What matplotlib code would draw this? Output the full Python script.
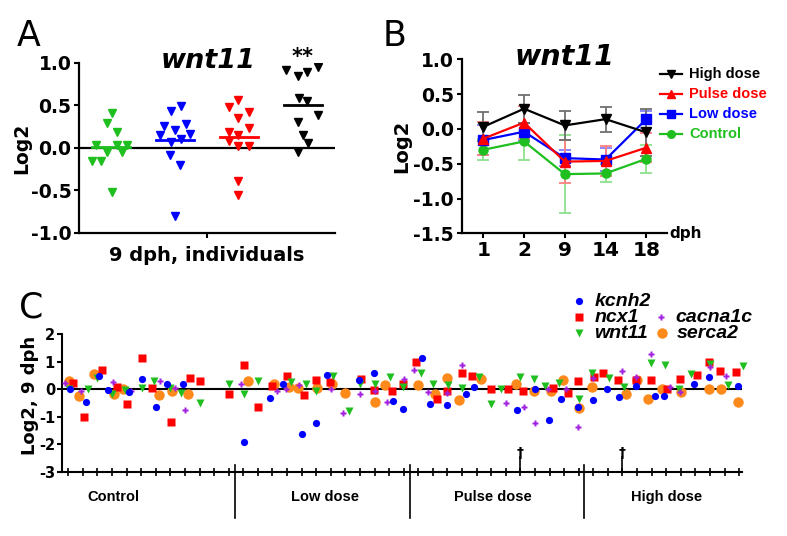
import matplotlib
matplotlib.use('Agg')
import matplotlib.pyplot as plt
from matplotlib.lines import Line2D
import numpy as np

plt.rcParams['font.family'] = ['DejaVu Sans']
plt.rcParams['axes.unicode_minus'] = False

W, H = 787, 536
fig = plt.figure(figsize=(W / 100, H / 100), dpi=100)


def fx(px):
    return px / W


def fy(py):
    return 1 - py / H


GREEN = '#1fbf1f'
BLUE = '#0000ff'
RED = '#ff0000'
BLACK = '#000000'
PURPLE = '#a21fe0'
ORANGE = '#ff8a1c'

# ---------------- Panel A data (9 dph, individuals) ----------------
a_groups = ['Control', 'Low dose', 'Pulse dose', 'High dose']
a_ctrl_x = [1.01, 0.93, 1.09, 0.76, 1.25, 1.09, 0.93, 1.17, 0.70, 0.85, 1.01]
a_ctrl_y = [0.41, 0.29, 0.18, 0.03, 0.03, 0.03, -0.05, -0.05, -0.16, -0.16, -0.52]
a_low_x = [1.93, 2.09, 1.83, 2.00, 2.17, 1.76, 2.24, 1.93, 2.09, 1.92, 2.08, 2.00]
a_low_y = [0.43, 0.49, 0.26, 0.21, 0.28, 0.15, 0.16, 0.07, 0.10, -0.09, -0.20, -0.80]
a_pulse_x = [2.99, 2.84, 3.15, 2.99, 2.84, 3.15, 2.99, 2.84, 2.99, 3.15, 2.99, 2.99]
a_pulse_y = [0.56, 0.48, 0.42, 0.35, 0.19, 0.23, 0.15, 0.08, 0.02, 0.02, -0.39, -0.56]
a_high_x = [3.73, 3.92, 4.07, 4.24, 3.93, 4.07, 4.23, 3.92, 4.00, 4.08, 3.92]
a_high_y = [0.91, 0.84, 0.89, 0.95, 0.58, 0.55, 0.38, 0.30, 0.15, 0.06, -0.05]
a_yticks = [-1.0, -0.5, 0.0, 0.5, 1.0]

# ---------------- Panel B data (time course) ----------------
b_dph = ['1', '2', '9', '14', '18']
b_high = [0.03, 0.29, 0.05, 0.14, -0.05]
b_high_err = [0.21, 0.20, 0.21, 0.18, 0.34]
b_pulse = [-0.14, 0.09, -0.47, -0.46, -0.27]
b_pulse_err = [0.24, 0.24, 0.31, 0.21, 0.21]
b_low = [-0.16, -0.04, -0.42, -0.44, 0.14]
b_low_err = [0.22, 0.13, 0.12, 0.17, 0.12]
b_ctrl = [-0.30, -0.18, -0.65, -0.64, -0.43]
b_ctrl_err = [0.15, 0.27, 0.56, 0.13, 0.20]
b_yticks = [-1.5, -1.0, -0.5, 0.0, 0.5, 1.0]

# ---------------- Panel C data (individuals, 9 dph) ----------------
c_groups = ['Control', 'Low dose', 'Pulse dose', 'High dose']
c_group_centers = [4.07, 18.6, 30.1, 42.06]
c_separators = [12.4, 24.45, 36.35]
c_daggers = [32, 39]
c_n_ticks = 47

kcnh2_x = [1.12, 2.21, 3.13, 3.74, 5.14, 6.03, 7.02, 7.75, 8.85, 13.03, 14.85, 15.75,
           17.01, 18.01, 18.72, 20.96, 21.99, 23.29, 23.98, 25.28, 25.83, 26.99, 28.28,
           28.83, 31.80, 33.03, 33.97, 34.81, 35.94, 36.97, 37.97, 38.79, 39.96, 41.26,
           41.88, 43.94, 44.96, 46.95]
kcnh2_y = [0.00, -0.48, 0.48, -0.04, -0.10, 0.36, -0.65, 0.20, 0.18, -1.92, -0.31, 0.18,
           -1.61, -1.23, 0.51, 0.35, 0.57, -0.43, -0.71, 1.12, -0.53, -0.57, -0.17,
           0.08, -0.76, 0.01, -1.10, -0.35, -0.63, -0.39, 0.02, -0.30, 0.12, -0.23,
           -0.23, 0.19, 0.46, 0.11]

ncx1_x = [1.34, 2.06, 3.33, 4.32, 5.03, 6.03, 6.76, 8.04, 9.33, 10.03, 12.02, 13.03,
          14.01, 14.97, 16.02, 17.17, 18.01, 18.97, 21.05, 21.97, 23.18, 23.93, 24.83,
          26.29, 26.95, 27.98, 28.69, 29.99, 31.16, 32.17, 34.26, 35.25, 35.98, 37.04,
          37.69, 38.70, 39.94, 40.97, 42.04, 42.98, 44.12, 44.92, 45.68, 46.77]
ncx1_y = [0.24, -0.99, 0.69, 0.07, -0.54, 1.12, 0.04, -1.18, 0.41, 0.29, -0.17, 0.86,
          -0.66, 0.10, 0.47, -0.22, 0.35, 0.27, 0.37, -0.02, -0.06, 0.18, 1.00,
          -0.35, -0.07, 0.58, 0.49, 0.00, 0.00, -0.06, 0.04, -0.12, 0.28, 0.46,
          0.60, 0.35, 0.34, 0.34, 0.00, 0.37, 0.52, 0.99, 0.65, 0.61]

wnt11_x = [1.05, 2.33, 2.95, 3.98, 4.91, 6.03, 6.86, 7.95, 8.73, 10.03, 12.02, 13.05,
           13.99, 16.30, 17.28, 18.01, 19.13, 20.27, 20.99, 22.04, 23.06, 23.98, 25.17,
           25.99, 27.04, 27.98, 29.17, 29.97, 30.70, 31.98, 32.96, 33.70, 34.68, 36.01,
           36.92, 38.11, 39.13, 40.97, 41.95, 42.91, 43.69, 45.01, 46.27, 47.25]
wnt11_y = [0.00, 0.02, 0.42, -0.18, -0.02, 0.04, 0.31, 0.06, -0.13, -0.51, 0.18, -0.18,
           0.29, 0.25, 0.20, -0.08, 0.49, -0.80, 0.18, 0.18, 0.44, 0.07, 0.57,
           0.18, 0.14, 0.04, 0.46, -0.55, 0.02, 0.43, 0.36, 0.10, 0.23, -0.36,
           0.60, 0.39, 0.08, 0.96, 0.89, 0.00, 0.54, 0.92, 0.16, 0.84]

cacna1c_x = [0.77, 1.87, 4.05, 5.32, 7.31, 8.30, 9.02, 12.82, 15.29, 15.93, 16.82, 19.02,
             19.86, 20.99, 22.06, 22.84, 24.05, 24.71, 25.69, 26.99, 27.98, 31.00, 32.28,
             32.99, 33.90, 35.14, 35.98, 36.97, 38.96, 39.94, 40.97, 42.27, 42.98, 45.00,
             46.13]
cacna1c_y = [0.22, -0.06, 0.27, -0.06, 0.29, 0.06, -0.75, 0.19, -0.05, 0.00, 0.14, 0.01,
             -0.87, -0.18, -0.08, -0.47, 0.36, 0.70, -0.11, -0.12, 0.89, -0.51, -0.65,
             -1.23, 0.00, 0.00, -1.37, 0.39, 0.66, 0.43, 1.28, 0.07, -0.10, 0.80,
             0.48]

serca2_x = [1.05, 1.75, 2.76, 4.13, 4.77, 7.20, 8.13, 9.19, 13.30, 15.09, 16.12, 16.73,
            18.06, 19.11, 19.99, 22.02, 22.72, 25.01, 26.15, 26.99, 27.82, 29.29, 31.71,
            32.94, 34.09, 34.95, 36.01, 36.94, 39.25, 40.01, 40.78, 41.70, 43.00, 44.96,
            45.79, 46.95]
serca2_y = [0.28, -0.24, 0.54, -0.16, 0.00, -0.20, -0.06, -0.16, 0.28, 0.20, 0.08, 0.04,
            0.04, 0.18, -0.13, -0.48, 0.17, 0.14, -0.16, 0.39, -0.40, 0.37, 0.19,
            -0.08, -0.05, 0.34, -0.69, 0.07, -0.17, 0.35, -0.35, 0.01, -0.10, 0.01,
            0.01, -0.48]
c_yticks = [-3, -2, -1, 0, 1, 2]

# =============== Panel A ===============
axA = fig.add_axes([fx(79), fy(232.7), fx(256), 170 / H])
a_sets = [(a_ctrl_x, a_ctrl_y, GREEN), (a_low_x, a_low_y, BLUE),
          (a_pulse_x, a_pulse_y, RED), (a_high_x, a_high_y, BLACK)]
axA.axhline(0, color='black', lw=1.6, zorder=1)
for i, (xs, ys, col) in enumerate(a_sets):
    axA.plot(xs, ys, linestyle='none', marker='v', ms=6, color=col, mec=col, zorder=3)
    m = np.mean(ys)
    axA.plot([i + 1 - 0.3, i + 1 + 0.3], [m, m], color=col, lw=2, zorder=2)
axA.set_xlim(0.5, 4.5)
axA.set_ylim(-1, 1)
axA.set_yticks(a_yticks)
axA.set_yticklabels(['%.1f' % v for v in a_yticks], fontsize=13.5, fontweight='bold')
axA.set_xticks([2.5])
axA.set_xticklabels([''])
axA.tick_params(axis='both', direction='out', length=3.5, width=1.5, pad=2)
for s in ['top', 'right']:
    axA.spines[s].set_visible(False)
for s in ['left', 'bottom']:
    axA.spines[s].set_linewidth(1.6)
axA.set_xlabel('9 dph, individuals', fontsize=14, fontweight='bold', labelpad=4)
axA.text(2.52, 1.02, 'wnt11', ha='center', va='center', fontsize=19.5,
         fontweight='bold', fontstyle='italic', clip_on=False)
axA.text(4.0, 1.07, '**', ha='center', va='center', fontsize=15, fontweight='bold',
         clip_on=False)
fig.text(fx(22), fy(148), 'Log2', rotation=90, ha='center', va='center',
         fontsize=13.5, fontweight='bold')
fig.text(fx(29), fy(36), 'A', ha='center', va='center', fontsize=25)

# =============== Panel B ===============
axB = fig.add_axes([fx(461.7), fy(233.3), fx(205), 174 / H])
bx = np.arange(len(b_dph))
b_series = [
    ('Control', b_ctrl, b_ctrl_err, GREEN, 'o', '#8fe08f'),
    ('Low dose', b_low, b_low_err, BLUE, 's', '#8080ff'),
    ('Pulse dose', b_pulse, b_pulse_err, RED, '^', '#ff8080'),
    ('High dose', b_high, b_high_err, BLACK, 'v', '#707070'),
]
for name, vals, errs, col, mk, ecol in b_series:
    axB.errorbar(bx, vals, yerr=errs, fmt='none', ecolor=ecol, elinewidth=1.3,
                 capsize=4, capthick=1.3, zorder=2)
    axB.plot(bx, vals, color=col, lw=1.6, marker=mk, ms=6.5, zorder=3)
axB.set_xlim(-0.53, 4.5)
axB.set_ylim(-1.5, 1.0)
axB.set_yticks(b_yticks)
axB.set_yticklabels(['%.1f' % v for v in b_yticks], fontsize=13.5, fontweight='bold')
axB.set_xticks(bx)
axB.set_xticklabels(b_dph, fontsize=14.5, fontweight='bold')
axB.tick_params(axis='both', direction='out', length=3.5, width=1.5, pad=2)
for s in ['top', 'right']:
    axB.spines[s].set_visible(False)
for s in ['left', 'bottom']:
    axB.spines[s].set_linewidth(1.6)
axB.text(1.99, 1.03, 'wnt11', ha='center', va='center', fontsize=20.5,
         fontweight='bold', fontstyle='italic', clip_on=False)
axB.text(1.015, 0.0, 'dph', transform=axB.transAxes, ha='left', va='center',
         fontsize=11, fontweight='bold')
fig.text(fx(402), fy(146), 'Log2', rotation=90, ha='center', va='center',
         fontsize=14, fontweight='bold')
fig.text(fx(395), fy(36), 'B', ha='center', va='center', fontsize=25)

# legend B (manual)
leg_rows = [('High dose', BLACK, 'v', 74), ('Pulse dose', RED, '^', 94.3),
            ('Low dose', BLUE, 's', 114.3), ('Control', GREEN, 'o', 134.3)]
for name, col, mk, yy in leg_rows:
    fig.add_artist(Line2D([fx(660), fx(682)], [fy(yy), fy(yy)], color=col, lw=1.6,
                          transform=fig.transFigure))
    fig.add_artist(Line2D([fx(671)], [fy(yy)], color=col, marker=mk, ms=5.5,
                          transform=fig.transFigure))
    fig.text(fx(689), fy(yy), name, color=col, ha='left', va='center',
             fontsize=10.5, fontweight='bold', family='Liberation Sans')

# =============== Panel C ===============
axC = fig.add_axes([fx(62), fy(472), fx(680), 138 / H])
axC.axhline(0, color='black', lw=1.5, zorder=1)
c_sets = [
    (serca2_x, serca2_y, ORANGE, 'o', 7.5),
    (ncx1_x, ncx1_y, RED, 's', 5.2),
    (wnt11_x, wnt11_y, GREEN, 'v', 5.8),
    (cacna1c_x, cacna1c_y, PURPLE, 'P', 5.0),
    (kcnh2_x, kcnh2_y, BLUE, 'o', 5.2),
]
for xs, ys, col, mk, ms in c_sets:
    axC.plot(xs, ys, linestyle='none', marker=mk, ms=ms, color=col, mec='none',
             zorder=3, clip_on=False)
axC.set_xlim(0.57, 47.2)
axC.set_ylim(-3, 2)
axC.set_yticks(c_yticks)
axC.set_yticklabels([str(v) for v in c_yticks], fontsize=10.5, fontweight='bold')
axC.set_xticks(range(1, c_n_ticks + 1))
axC.tick_params(axis='x', direction='inout', length=6, width=1.2, labelbottom=False)
axC.tick_params(axis='y', direction='out', length=3.5, width=1.5, pad=1.5)
for s in ['top', 'right']:
    axC.spines[s].set_visible(False)
for s in ['left', 'bottom']:
    axC.spines[s].set_linewidth(1.5)
for sx in c_separators:
    axC.plot([sx, sx], [-2.75, -4.68], color='black', lw=1.2, clip_on=False)
for dx in c_daggers:
    axC.plot([dx, dx], [-3, -2.45], color='black', lw=1.2, clip_on=False)
    axC.text(dx, -2.55, '\u2020', ha='center', va='bottom', fontsize=10,
             fontweight='bold', clip_on=False)
for gx, gname in zip(c_group_centers, c_groups):
    axC.text(gx, -3.9, gname, ha='center', va='center', fontsize=10.5,
             fontweight='bold', family='Liberation Sans', clip_on=False)
fig.text(fx(30), fy(395), 'Log2, 9 dph', rotation=90, ha='center', va='center',
         fontsize=13, fontweight='bold')
fig.text(fx(31), fy(307), 'C', ha='center', va='center', fontsize=25)

# legend C (manual)
c_leg = [('kcnh2', BLUE, 'o', 5.2, 579.3, 301), ('ncx1', RED, 's', 5.2, 579.3, 317.3),
         ('wnt11', GREEN, 'v', 5.8, 579.3, 333.3), ('cacna1c', PURPLE, 'P', 5.0, 660.7, 317.3),
         ('serca2', ORANGE, 'o', 7.5, 661.7, 333.3)]
for name, col, mk, ms, lx, ly in c_leg:
    fig.add_artist(Line2D([fx(lx)], [fy(ly)], color=col, marker=mk, ms=ms, mec='none',
                          transform=fig.transFigure))
    fig.text(fx(lx + 15), fy(ly), name, ha='left', va='center', fontsize=14,
             fontweight='bold', fontstyle='italic', family='Liberation Sans')

fig.savefig('out.png', dpi=100)
